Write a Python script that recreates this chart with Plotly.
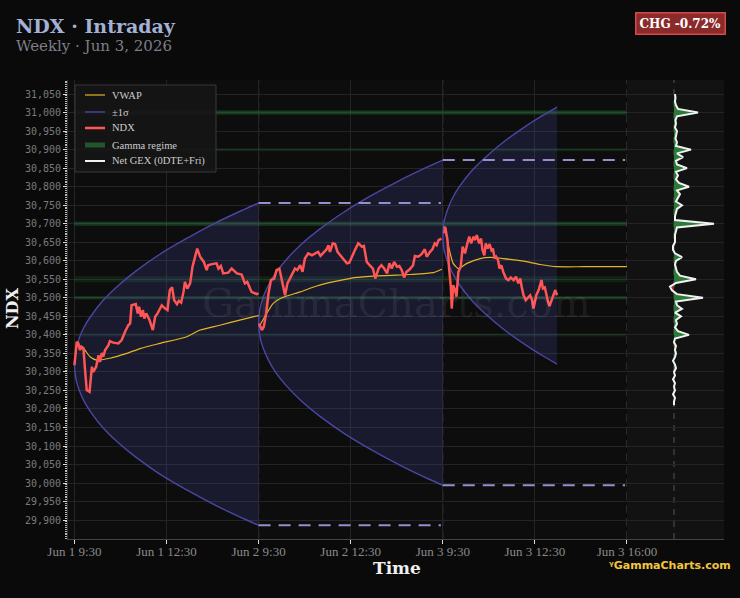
import plotly.graph_objects as go

# ---------------- data ----------------
SESSION = 390  # minutes in a 9:30-16:00 session

tick_vals = [0, 195, 390, 585, 780, 975, 1170]
tick_text = ["Jun 1 9:30", "Jun 1 12:30", "Jun 2 9:30", "Jun 2 12:30",
             "Jun 3 9:30", "Jun 3 12:30", "Jun 3 16:00"]
y_tick_vals = [29900, 29950, 30000, 30050, 30100, 30150, 30200, 30250, 30300, 30350,
               30400, 30450, 30500, 30550, 30600, 30650, 30700, 30750, 30800, 30850,
               30900, 30950, 31000, 31050]

# NDX price (minutes since open, value) per session
ndx_d1_min = [0, 5, 8, 12, 15, 19, 22, 26, 32, 37, 40, 46, 51, 54, 58, 61, 65, 72, 75, 82,
              93, 100, 107, 114, 118, 121, 130, 134, 137, 141, 145, 148, 152, 159, 166, 171, 176, 185, 192, 197,
              202, 207, 211, 217, 221, 226, 231, 234, 239, 245, 250, 255, 260, 266, 274, 280, 283, 291, 301, 305,
              310, 315, 326, 333, 344, 354, 361, 366, 375, 386, 390]
ndx_d1 = [30318, 30381, 30378, 30359, 30368, 30364, 30314, 30251, 30246, 30314,
          30300, 30314, 30345, 30327, 30351, 30341, 30359, 30372, 30383, 30379,
          30377, 30386, 30408, 30426, 30431, 30480, 30483, 30458, 30476, 30449,
          30467, 30444, 30458, 30440, 30413, 30449, 30458, 30480, 30471, 30467,
          30521, 30528, 30494, 30483, 30492, 30487, 30516, 30543, 30525, 30539,
          30584, 30606, 30633, 30611, 30597, 30575, 30588, 30591, 30593, 30579,
          30586, 30566, 30568, 30579, 30566, 30563, 30539, 30543, 30516, 30510, 30512]
ndx_d2_min = [1, 7, 11, 16, 21, 26, 33, 38, 44, 49, 56, 61, 66, 72, 77, 82, 88, 93, 98, 105,
              113, 120, 126, 131, 137, 144, 148, 151, 157, 162, 167, 173, 179, 187, 192, 197, 204, 211, 219, 223,
              229, 235, 242, 247, 254, 260, 266, 272, 277, 282, 287, 293, 298, 303, 308, 313, 320, 327, 331, 338,
              345, 352, 356, 363, 368, 373, 377, 381, 387]
ndx_d2 = [30431, 30413, 30422, 30458, 30512, 30548, 30552, 30575, 30579, 30548,
          30507, 30539, 30552, 30570, 30579, 30575, 30588, 30570, 30606, 30620,
          30615, 30620, 30624, 30613, 30622, 30631, 30642, 30624, 30647, 30645,
          30624, 30615, 30606, 30593, 30595, 30611, 30629, 30647, 30638, 30640,
          30597, 30588, 30579, 30552, 30579, 30588, 30579, 30566, 30593, 30579,
          30597, 30584, 30586, 30575, 30555, 30570, 30577, 30588, 30613, 30611,
          30618, 30631, 30611, 30624, 30631, 30647, 30642, 30656, 30660]
ndx_d3_min = [3, 5, 7, 10, 13, 17, 19, 22, 26, 29, 33, 38, 42, 47, 52, 56, 60, 65, 68, 72,
              77, 81, 84, 88, 91, 95, 99, 103, 106, 110, 113, 117, 120, 124, 128, 134, 139, 144, 150, 155,
              160, 164, 167, 171, 176, 180, 185, 189, 192, 198, 203, 209, 212, 216, 219, 223, 226, 231, 235, 238,
              242]
ndx_d3 = [30674, 30692, 30678, 30656, 30584, 30530, 30471, 30534, 30521, 30503,
          30570, 30584, 30638, 30620, 30647, 30665, 30647, 30665, 30656, 30669,
          30647, 30660, 30629, 30615, 30647, 30633, 30645, 30629, 30633, 30606,
          30611, 30602, 30579, 30588, 30570, 30552, 30548, 30555, 30548, 30557,
          30539, 30552, 30530, 30507, 30494, 30501, 30507, 30494, 30471, 30507,
          30521, 30548, 30525, 30528, 30507, 30489, 30478, 30498, 30512, 30521,
          30507]

# VWAP per session
vwap_d1_min = [3, 8, 19, 33, 47, 75, 111, 139, 181, 238, 266, 308, 350, 386, 390]
vwap_d1 = [30370, 30372, 30364, 30341, 30332, 30337, 30350, 30363, 30377, 30395, 30413, 30426, 30440, 30451, 30452]
vwap_d2_min = [1, 13, 31, 49, 88, 123, 165, 208, 264, 321, 370, 388]
vwap_d2 = [30422, 30449, 30485, 30500, 30516, 30532, 30545, 30555, 30560, 30563, 30568, 30577]
vwap_d3_min = [3, 8, 14, 22, 33, 51, 79, 100, 128, 171, 206, 242, 300, 390]
vwap_d3 = [30692, 30665, 30629, 30593, 30579, 30593, 30606, 30609, 30606, 30599, 30590, 30584, 30584, 30584]

# +/-1 sigma expected-move cone per session
cone_min = [0, 2, 5, 10, 20, 35, 60, 90, 130, 180, 240, 300, 360, 390]
cone_d1_up = [30321, 30352, 30370, 30391, 30420, 30451, 30492, 30530, 30572, 30617, 30662, 30703, 30739, 30756]
cone_d1_lo = [30321, 30290, 30272, 30251, 30222, 30191, 30150, 30112, 30070, 30025, 29980, 29939, 29903, 29886]
cone_d2_up = [30433, 30464, 30483, 30503, 30532, 30565, 30605, 30644, 30686, 30731, 30777, 30818, 30855, 30872]
cone_d2_lo = [30433, 30402, 30383, 30363, 30334, 30301, 30261, 30222, 30180, 30135, 30089, 30048, 30011, 29994]
cone_d3_min = [0, 2, 5, 10, 20, 35, 60, 90, 130, 180, 210, 242]
cone_d3_up = [30668, 30700, 30718, 30738, 30768, 30800, 30841, 30879, 30922, 30967, 30991, 31015]
cone_d3_lo = [30668, 30636, 30618, 30598, 30568, 30536, 30495, 30457, 30414, 30369, 30345, 30321]

# Gamma regime levels and their strength (opacity)
gamma_levels = [31000, 30900, 30700, 30550, 30500, 30400]
gamma_strength = [0.34, 0.16, 0.33, 0.16, 0.3, 0.15]

# Net GEX profile (0DTE + Fri) by strike
gex_strikes = [31050, 31040, 31030, 31020, 31010, 31000, 30990, 30980, 30970, 30960,
               30950, 30940, 30930, 30920, 30910, 30900, 30890, 30880, 30870, 30860,
               30850, 30840, 30830, 30820, 30810, 30800, 30790, 30780, 30770, 30760,
               30750, 30740, 30730, 30720, 30710, 30700, 30690, 30680, 30670, 30660,
               30650, 30640, 30630, 30620, 30610, 30600, 30590, 30580, 30570, 30560,
               30550, 30540, 30530, 30520, 30510, 30500, 30490, 30480, 30470, 30460,
               30450, 30440, 30430, 30420, 30410, 30400, 30390, 30380, 30370, 30360,
               30350, 30340, 30330, 30320, 30310, 30300, 30290, 30280, 30270, 30260,
               30250, 30240, 30230, 30220, 30210]
gex_values = [1, 1.5, 1, 2, 4, 24, 3, 1.5, 2, 1,
              3, 2, 1.5, 3, 2, 17, 3, 9, 2, 3,
              13, 2, 4, 2, 5, 15, 3, 6, 4, 2,
              8, 3, 2, 1, 1, 40, 3, 2, 1, 1,
              1, -1, -1, 1, 8, 2, 1, 2, 3, 6,
              22, 2, -4, -2, 3, 29, 2, 3, 8, 1,
              7, 2, 3, 1, 4, 15, 1, 0, 2, 1,
              2, 1, -1, 1, 2, 0, 1, -1, 1, 0,
              1, -1, 1, 0, 0]

chg_text = "CHG -0.72%"
legend_labels = ["VWAP", "±1σ", "NDX", "Gamma regime", "Net GEX (0DTE+Fri)"]

# ---------------- styles ----------------
SERIF = "DejaVu Serif"
TIMES = "Liberation Serif"
MONO = "DejaVu Sans Mono"
BG = "#0a0a0a"
PLOT_BG = "#0d0d0d"
GRID = "#242424"
CONE_LINE = "#4a46a4"
CONE_FILL = "rgba(80,80,180,0.20)"
PROJ = "#9490d0"
NDX_C = "#ff5555"
VWAP_C = "#e6b422"
GEX_C = "#f2f2f2"
GAMMA_RGB = "45,150,65"
gamma_widths = [4, 3, 4, 6, 3, 3]

MAIN_END = 0.8521
L, R, T, B = 68, 16, 80, 59
W, H = 740, 598
pw, ph = W - L - R, H - T - B


def px_x(x):
    return (x - L) / pw


def px_y(y):
    return (H - B - y) / ph


def sx(day, mins):
    return [day * SESSION + m for m in mins]


fig = go.Figure()
x_end = tick_vals[-1]

# gamma regime bands
for lvl, a, w in zip(gamma_levels, gamma_strength, gamma_widths):
    fig.add_trace(go.Scatter(
        x=[0, x_end], y=[lvl, lvl], mode="lines",
        line=dict(color=f"rgba({GAMMA_RGB},{a})", width=w),
        name="Gamma regime", showlegend=False, hoverinfo="skip"))

# sigma cones
cones = [(0, cone_min, cone_d1_up, cone_d1_lo),
         (1, cone_min, cone_d2_up, cone_d2_lo),
         (2, cone_d3_min, cone_d3_up, cone_d3_lo)]
for day, mins, up, lo in cones:
    fig.add_trace(go.Scatter(
        x=sx(day, mins), y=lo, mode="lines", line=dict(color=CONE_LINE, width=1.4, shape="spline"),
        showlegend=False, hoverinfo="skip"))
    fig.add_trace(go.Scatter(
        x=sx(day, mins), y=up, mode="lines", line=dict(color=CONE_LINE, width=1.4, shape="spline"),
        fill="tonexty", fillcolor=CONE_FILL, name="±1σ", showlegend=False, hoverinfo="skip"))

# previous-session sigma levels projected over the next session
for day, up, lo in [(1, cone_d1_up, cone_d1_lo), (2, cone_d2_up, cone_d2_lo)]:
    for lvl in (up[-1], lo[-1]):
        fig.add_trace(go.Scatter(
            x=[day * SESSION, (day + 1) * SESSION - 4], y=[lvl, lvl], mode="lines",
            line=dict(color=PROJ, width=2, dash="12px,8px"),
            showlegend=False, hoverinfo="skip"))

# VWAP
vx = sx(0, vwap_d1_min) + [None] + sx(1, vwap_d2_min) + [None] + sx(2, vwap_d3_min)
vy = vwap_d1 + [None] + vwap_d2 + [None] + vwap_d3
fig.add_trace(go.Scatter(x=vx, y=vy, mode="lines", name="VWAP", showlegend=False,
                         line=dict(color=VWAP_C, width=1.2, shape="spline", smoothing=0.6)))

# NDX
nx = sx(0, ndx_d1_min) + [None] + sx(1, ndx_d2_min) + [None] + sx(2, ndx_d3_min)
ny = ndx_d1 + [None] + ndx_d2 + [None] + ndx_d3
fig.add_trace(go.Scatter(x=nx, y=ny, mode="lines", name="NDX", showlegend=False,
                         line=dict(color=NDX_C, width=2.5)))

# Net GEX profile (right panel)
fig.add_trace(go.Scatter(x=[max(v, 0) for v in gex_values], y=gex_strikes, xaxis="x2", yaxis="y",
                         mode="lines", line=dict(width=0), fill="tozerox", fillcolor="#2a7a38",
                         showlegend=False, hoverinfo="skip"))
fig.add_trace(go.Scatter(x=[min(v, 0) for v in gex_values], y=gex_strikes, xaxis="x2", yaxis="y",
                         mode="lines", line=dict(width=0), fill="tozerox", fillcolor="#9a2f2f",
                         showlegend=False, hoverinfo="skip"))
fig.add_trace(go.Scatter(x=gex_values, y=gex_strikes, xaxis="x2", yaxis="y", mode="lines",
                         name="Net GEX (0DTE+Fri)", showlegend=False,
                         line=dict(color=GEX_C, width=2)))

# ---------------- shapes ----------------
shapes = [
    dict(type="rect", xref="x2 domain", yref="y domain", x0=0, x1=1, y0=0, y1=1,
         fillcolor="rgba(255,255,255,0.025)", line=dict(width=0), layer="below"),
    dict(type="line", xref="x2", yref="y domain", x0=0, x1=0, y0=0, y1=1,
         line=dict(color="#4a4a4a", width=1.2, dash="6px,6px"), layer="below"),
]
for d in (1, 2, 3):
    shapes.append(dict(type="line", xref="x", yref="y domain", x0=d * SESSION, x1=d * SESSION,
                       y0=0, y1=1, line=dict(color="#3a3a3a", width=1.2, dash="8px,5px"), layer="below"))

# legend panel (drawn as a box with swatches)
leg_box = (75, 85, 216, 172)
leg_rows = [95, 112, 128, 145, 161]
leg_styles = [(VWAP_C, 1.2), (CONE_LINE, 1.4), (NDX_C, 2.5), (f"rgba({GAMMA_RGB},0.5)", 5), (GEX_C, 2)]
shapes.append(dict(type="rect", xref="paper", yref="paper",
                   x0=px_x(leg_box[0]), x1=px_x(leg_box[2]), y0=px_y(leg_box[3]), y1=px_y(leg_box[1]),
                   fillcolor="rgba(22,22,22,0.93)", line=dict(color="#383838", width=1), layer="above"))
for yy, (col, lw) in zip(leg_rows, leg_styles):
    shapes.append(dict(type="line", xref="paper", yref="paper", x0=px_x(85), x1=px_x(105),
                       y0=px_y(yy), y1=px_y(yy), line=dict(color=col, width=lw), layer="above"))

# ---------------- annotations ----------------
annotations = [
    dict(text="<b>NDX · Intraday</b>", x=px_x(14), y=px_y(26), xref="paper", yref="paper",
         xanchor="left", yanchor="middle", showarrow=False,
         font=dict(family=SERIF, size=19, color="#a3b1d6")),
    dict(text="Weekly · Jun 3, 2026", x=px_x(14), y=px_y(46), xref="paper", yref="paper",
         xanchor="left", yanchor="middle", showarrow=False,
         font=dict(family=SERIF, size=15, color="#7e7e88")),
    dict(text=f"<b>{chg_text}</b>", x=px_x(680), y=px_y(24), xref="paper", yref="paper",
         xanchor="center", yanchor="middle", showarrow=False,
         font=dict(family=SERIF, size=12, color="#ffffff"),
         bgcolor="#8a2a2a", bordercolor="#d94848", borderwidth=1.5, borderpad=3),
    dict(text="GammaCharts.com", x=px_x(397), y=px_y(303), xref="paper", yref="paper",
         xanchor="center", yanchor="middle", showarrow=False,
         font=dict(family=SERIF, size=40, color="rgba(255,255,255,0.07)")),
    dict(text="<b>NDX</b>", x=px_x(12), y=px_y(308), xref="paper", yref="paper",
         xanchor="center", yanchor="middle", textangle=-90, showarrow=False,
         font=dict(family=SERIF, size=16, color="#f0f0f0")),
    dict(text="<b>Time</b>", x=px_x(397), y=px_y(568), xref="paper", yref="paper",
         xanchor="center", yanchor="middle", showarrow=False,
         font=dict(family=SERIF, size=17, color="#f0f0f0")),
    dict(text="<b>ᵞGammaCharts.com</b>", x=px_x(733), y=px_y(565), xref="paper", yref="paper",
         xanchor="right", yanchor="middle", showarrow=False,
         font=dict(family="DejaVu Sans", size=11, color="#f2c53d")),
]
for yy, lab in zip(leg_rows, legend_labels):
    annotations.append(dict(text=lab, x=px_x(110), y=px_y(yy), xref="paper", yref="paper",
                            xanchor="left", yanchor="middle", showarrow=False,
                            font=dict(family=TIMES, size=10.5, color="#cccccc")))

fig.update_layout(
    width=W, height=H, autosize=False,
    margin=dict(l=L, r=R, t=T, b=B, pad=0),
    paper_bgcolor=BG, plot_bgcolor=PLOT_BG,
    font=dict(family=TIMES, color="#cccccc"),
    showlegend=False,
    xaxis=dict(domain=[0, MAIN_END], range=[-13.6, x_end], tickmode="array",
               tickvals=tick_vals, ticktext=tick_text, automargin=False,
               tickfont=dict(family=TIMES, size=13, color="#8a8a8a"),
               ticklabelstandoff=-4,
               showgrid=True, gridcolor=GRID, gridwidth=1, zeroline=False,
               showline=True, linecolor="#444444", linewidth=1,
               ticks="outside", ticklen=4, tickcolor="#dddddd"),
    xaxis2=dict(domain=[MAIN_END, 1], range=[-47, 50], anchor="y", automargin=False,
                showgrid=False, zeroline=False, showticklabels=False, ticks="",
                showline=True, linecolor="#444444", linewidth=1),
    yaxis=dict(range=[29849, 31088], tickmode="array", tickvals=y_tick_vals,
               tickformat=",d", automargin=False,
               tickfont=dict(family=MONO, size=10, color="#7a7a7a"),
               showgrid=True, gridcolor=GRID, gridwidth=1, zeroline=False,
               showline=True, linecolor="#333333", linewidth=1,
               ticks="outside", ticklen=4, tickcolor="#dddddd",
               minor=dict(dtick=5, ticks="outside", ticklen=2, tickcolor="#bbbbbb", showgrid=False)),
    shapes=shapes,
    annotations=annotations,
)

fig.write_html("out.html")
